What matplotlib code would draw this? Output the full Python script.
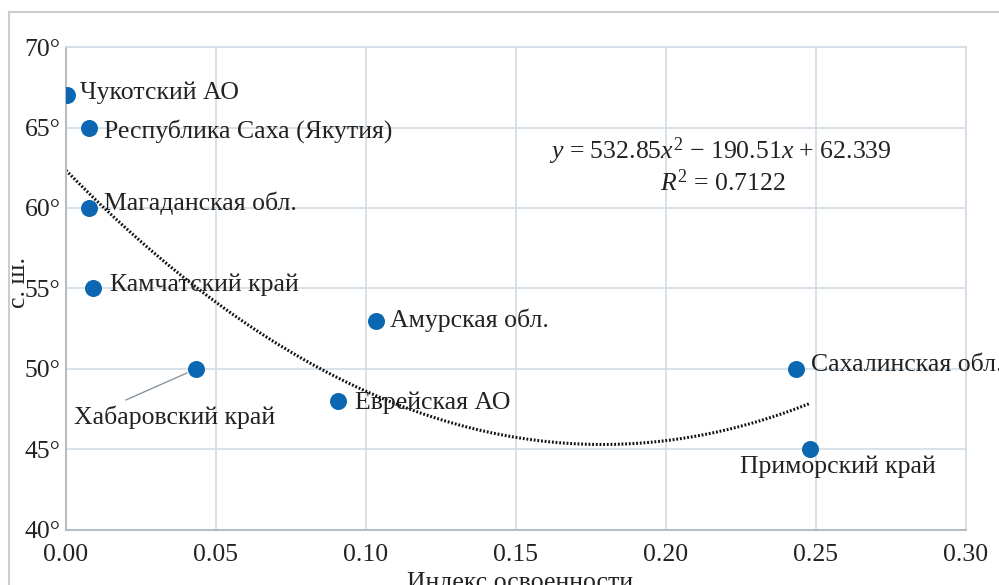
import numpy as np
import matplotlib
matplotlib.use('Agg')
import matplotlib.pyplot as plt
from matplotlib.lines import Line2D

plt.rcParams['font.family'] = ['Liberation Serif', 'DejaVu Serif']
plt.rcParams['mathtext.fontset'] = 'custom'
plt.rcParams['mathtext.rm'] = 'Liberation Serif'
plt.rcParams['mathtext.it'] = 'Liberation Serif:italic'

# regions of the Far East: development index vs latitude
regions = ['Чукотский АО', 'Республика Саха (Якутия)', 'Магаданская обл.',
           'Камчатский край', 'Хабаровский край', 'Еврейская АО',
           'Амурская обл.', 'Сахалинская обл.', 'Приморский край']
index = [0.0003, 0.0077, 0.0077, 0.009, 0.0433, 0.0907, 0.1033, 0.2433, 0.248]
lat = [67, 65, 60, 55, 50, 48, 53, 50, 45]

# quadratic trend coefficients
coef = [532.85, -190.51, 62.339]
r2 = 0.7122

# label offsets in pixels (dx, dy, ha)
offsets = [(13, 3, 'left'), (15, -4, 'left'), (15, 5, 'left'),
           (17, 4, 'left'), (-21, -48, 'center'), (17, -2, 'left'),
           (14, 0, 'left'), (15, 4, 'left'), (28, -17, 'center')]

xticks = [0.0, 0.05, 0.10, 0.15, 0.20, 0.25, 0.30]
yticks = [40, 45, 50, 55, 60, 65, 70]

grid_c = '#d3dde5'
txt_c = '#222222'
fs = 18.5

fig = plt.figure(figsize=(9.99, 5.85), dpi=100)
ax = fig.add_axes([66/999, 1 - 530/585, 900/999, 483/585])

# outer frame
fig.add_artist(Line2D([9/999, 1.0], [1 - 12/585] * 2, color='#c8cdd2', lw=1.5))
fig.add_artist(Line2D([9/999] * 2, [0, 1 - 12/585], color='#c8cdd2', lw=1.5))

ax.set_xlim(0, 0.30)
ax.set_ylim(40, 70)
ax.set_xticks(xticks)
ax.set_xticklabels(['%.2f' % t for t in xticks])
ax.set_yticks(yticks)
ax.set_yticklabels(['%d°' % t for t in yticks])
ax.tick_params(length=0, labelsize=fs, pad=4, colors=txt_c)
ax.tick_params(axis='x', pad=10)
ax.grid(True, color=grid_c, lw=1.2)
ax.set_axisbelow(True)
for side in ['top', 'right']:
    ax.spines[side].set_color(grid_c)
    ax.spines[side].set_linewidth(1.2)
for side in ['left', 'bottom']:
    ax.spines[side].set_color('#b5bec6')
    ax.spines[side].set_linewidth(1.5)

# trend line
xs = np.linspace(0, max(index), 200)
ax.plot(xs, np.polyval(coef, xs), color='#111111', lw=2.2, ls=(0, (0.6, 0.6)), zorder=2)

ax.scatter(index, lat, s=150, color='#0b67b2', zorder=3, linewidths=0)

for name, x, y, (dx, dy, ha) in zip(regions, index, lat, offsets):
    ax.annotate(name, xy=(x, y), xytext=(dx, dy), textcoords='offset pixels',
                ha=ha, va='center', fontsize=fs, color=txt_c, zorder=4)
    if name == 'Хабаровский край':
        # leader line from the label up to its point
        ax.annotate('', xy=(x, y), xytext=(-70, -31), textcoords='offset pixels',
                    arrowprops=dict(arrowstyle='-', color='#8a959e', lw=1,
                                    shrinkA=0, shrinkB=7))

ax.text(0.218, 63.5, r'$y$ = 532.85$x^2$ $-$ 190.51$x$ + 62.339',
        ha='center', va='center', fontsize=fs, color=txt_c)
ax.text(0.219, 61.6, r'$R^2$ = %.4f' % r2,
        ha='center', va='center', fontsize=fs, color=txt_c)

fig.text(19/999, 1 - 282/585, 'с. ш.', rotation=90, ha='center', va='center',
         fontsize=fs, color=txt_c)
fig.text(520/999, 1 - 572/585, 'Индекс освоенности', ha='center', va='top',
         fontsize=fs, color=txt_c)

fig.savefig('out.png', dpi=100)
